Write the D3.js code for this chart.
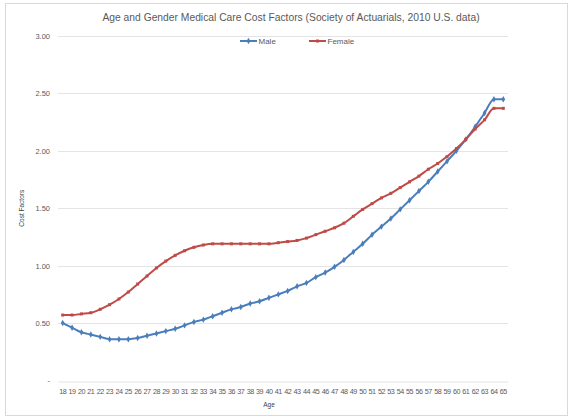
<!DOCTYPE html>
<html>
<head>
<meta charset="utf-8">
<script src="https://cdn.jsdelivr.net/npm/d3@7"></script>
<style>
  html, body { margin: 0; padding: 0; background: #fff; }
  svg { display: block; font-family: "Liberation Sans", "DejaVu Sans", sans-serif; }
</style>
</head>
<body>
<svg id="chart" width="569" height="419"></svg>
<script>
// Cost factors by age, 18 through 65
const ages = d3.range(18, 66);
const male = [
  0.50, 0.46, 0.42, 0.40, 0.38, 0.36, 0.36, 0.36, 0.37, 0.39,
  0.41, 0.43, 0.45, 0.48, 0.51, 0.53, 0.56, 0.59, 0.62, 0.64,
  0.67, 0.69, 0.72, 0.75, 0.78, 0.82, 0.85, 0.90, 0.94, 0.99,
  1.05, 1.12, 1.19, 1.27, 1.34, 1.41, 1.49, 1.57, 1.65, 1.73,
  1.82, 1.91, 2.00, 2.10, 2.21, 2.33, 2.45, 2.45
];
const female = [
  0.57, 0.57, 0.58, 0.59, 0.62, 0.66, 0.71, 0.77, 0.84, 0.91,
  0.98, 1.04, 1.09, 1.13, 1.16, 1.18, 1.19, 1.19, 1.19, 1.19,
  1.19, 1.19, 1.19, 1.20, 1.21, 1.22, 1.24, 1.27, 1.30, 1.33,
  1.37, 1.43, 1.49, 1.54, 1.59, 1.63, 1.68, 1.73, 1.78, 1.84,
  1.89, 1.95, 2.02, 2.10, 2.19, 2.27, 2.37, 2.37
];
const yTicks = [0, 0.5, 1.0, 1.5, 2.0, 2.5, 3.0];
const seriesNames = ["Male", "Female"];
const seriesColors = ["#4a7ebb", "#be4b48"];

const svg = d3.select("#chart");
const W = 569, H = 419;
const m = { left: 58, right: 61, top: 36, bottom: 38.5 };

// chart area border
svg.append("rect")
  .attr("x", 5.5).attr("y", 3.5).attr("width", W - 7).attr("height", H - 7)
  .attr("fill", "#fff").attr("stroke", "#d9d9d9");

const x = d3.scaleBand().domain(ages).range([m.left, W - m.right]);
const y = d3.scaleLinear().domain([0, 3]).range([H - m.bottom, m.top]);

// gridlines
svg.append("g").selectAll("line").data(yTicks.filter(t => t > 0)).join("line")
  .attr("x1", m.left).attr("x2", W - m.right)
  .attr("y1", d => Math.round(y(d)) + 0.5).attr("y2", d => Math.round(y(d)) + 0.5)
  .attr("stroke", "#e4e4e4");

// y axis labels
const yAxis = d3.axisLeft(y).tickValues(yTicks).tickSize(0).tickPadding(8)
  .tickFormat(d => d === 0 ? "-" : d3.format(".2f")(d));
const gy = svg.append("g").attr("transform", `translate(${m.left},0)`).call(yAxis);
gy.select(".domain").remove();
gy.selectAll("text").attr("fill", "#595959").attr("font-size", 7.5);

// x axis
const xAxis = d3.axisBottom(x).tickSize(0).tickPadding(7);
const gx = svg.append("g").attr("transform", `translate(0,${Math.round(y(0)) + 0.5})`).call(xAxis);
gx.select(".domain").attr("stroke", "#e4e4e4");
gx.selectAll("text").attr("fill", "#595959").attr("font-size", 7.2).attr("letter-spacing", -0.45);

// axis titles
svg.append("text").attr("x", (m.left + W - m.right) / 2 - 14).attr("y", 407)
  .attr("text-anchor", "middle").attr("font-size", 6.5).attr("fill", "#404040").text("Age");
svg.append("text")
  .attr("transform", `translate(24,${(y(0) + y(3)) / 2}) rotate(-90)`)
  .attr("text-anchor", "middle").attr("font-size", 6.5).attr("fill", "#404040").text("Cost Factors");

// title
svg.append("text").attr("x", 291).attr("y", 21).attr("text-anchor", "middle")
  .attr("font-size", 10.3).attr("fill", "#595959")
  .text("Age and Gender Medical Care Cost Factors (Society of Actuarials, 2010 U.S. data)");

// smoothed series lines
const line = d3.line().curve(d3.curveMonotoneX)
  .x((d, i) => x(ages[i]) + x.bandwidth() / 2).y(d => y(d));
const diamond = d3.symbol().type(d3.symbolDiamond).size(12);
const square = d3.symbol().type(d3.symbolSquare).size(9);
const markers = [diamond, square];

[male, female].forEach((vals, k) => {
  const g = svg.append("g");
  g.append("path").datum(vals).attr("d", line)
    .attr("fill", "none").attr("stroke", seriesColors[k]).attr("stroke-width", 2)
    .attr("stroke-linejoin", "round");
  g.selectAll("path.pt").data(vals).join("path").attr("class", "pt")
    .attr("d", markers[k]())
    .attr("transform", (d, i) => `translate(${x(ages[i]) + x.bandwidth() / 2},${y(d)})`)
    .attr("fill", seriesColors[k]);
});

// legend
const legendX = [240, 309];
seriesNames.forEach((name, k) => {
  const g = svg.append("g").attr("transform", `translate(${legendX[k]},41)`);
  g.append("line").attr("x1", 0).attr("x2", 17).attr("stroke", seriesColors[k]).attr("stroke-width", 2);
  g.append("path").attr("d", markers[k]()).attr("transform", "translate(8.5,0)").attr("fill", seriesColors[k]);
  g.append("text").attr("x", 18.5).attr("y", 3).attr("font-size", 8).attr("fill", "#595959").text(name);
});
</script>
</body>
</html>
